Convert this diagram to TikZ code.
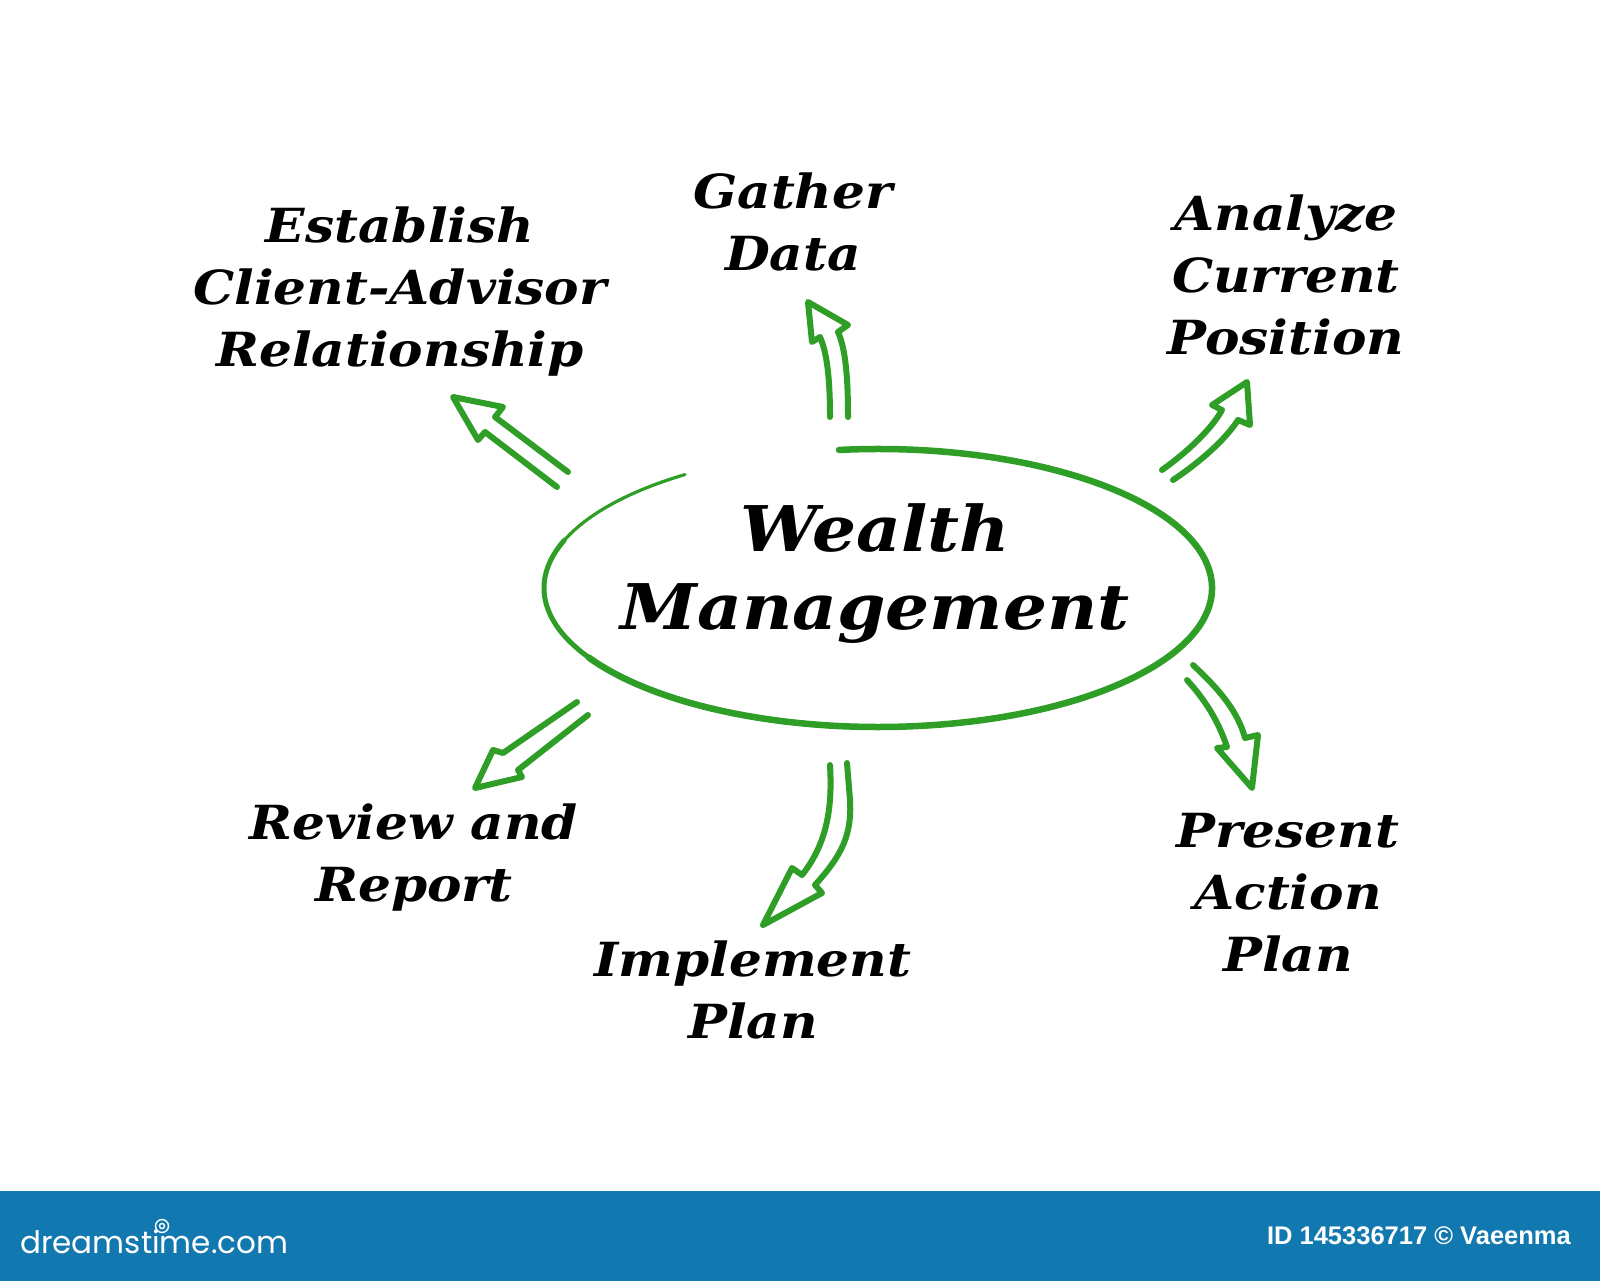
\documentclass[tikz,border=0pt]{standalone}
\usepackage{fontspec}
\newfontfamily\hand{DejaVu Serif}[FakeStretch=1.1]
\newfontfamily\barfont{Liberation Sans}
\newfontfamily\logofont{Poppins}
\definecolor{wmgreen}{RGB}{46,158,38}
\definecolor{barblue}{RGB}{18,120,176}
\begin{document}
\begin{tikzpicture}[x=1pt,y=-1pt,
  label/.style={font=\hand\bfseries\itshape\fontsize{47}{62}\selectfont, align=center, inner sep=0pt},
  hollowarrow/.style={draw=wmgreen, line width=6, line join=round, line cap=round},
  ring/.style={draw=wmgreen, line cap=round}]
\path[use as bounding box, fill=white] (0,0) rectangle (1600,1281);
% bottom bar
\fill[barblue] (0,1191) rectangle (1600,1281);
\node[anchor=base west, text=white, inner sep=0pt, font=\logofont\fontsize{31}{31}\selectfont] (logo) at (20,1253) {dreamstime.com};
\draw[white, line width=1.4] (162,1226) circle (6.5);
\draw[white, line width=1.4] (162,1226) circle (2.5);
\node[anchor=east, text=white, inner sep=0pt, font=\barfont\bfseries\fontsize{25.5}{26}\selectfont] (credit) at (1571,1236) {ID 145336717 © Vaeenma};

% centre ellipse (hand drawn, open at top left)
\draw[ring, line width=6.5] ([shift={(-96.7:334 and 139)}]878,588) arc[start angle=-96.7, end angle=150, x radius=334, y radius=139];
\draw[ring, line width=5] ([shift={(150:334 and 139)}]878,588) arc[start angle=150, end angle=200, x radius=334, y radius=139];
\draw[ring, line width=3.2] ([shift={(200:334 and 139)}]878,588) arc[start angle=200, end angle=234.7, x radius=334, y radius=139];

\node[font=\hand\bfseries\itshape\fontsize{63}{78}\selectfont, align=center, inner sep=0pt] (wm) at (875,574) {Wealth\\Management};

% labels
\node[label] (est) at (400,292) {Establish\\Client-Advisor\\Relationship};
\node[label] (gat) at (793,222) {Gather\\Data};
\node[label] (ana) at (1286,275) {Analyze\\Current\\Position};
\node[label] (pre) at (1288,893) {Present\\Action\\Plan};
\node[label] (imp) at (753,990) {Implement\\Plan};
\node[label] (rev) at (414,858) {Review and\\Report};

% hollow arrows
% to Establish
\draw[hollowarrow] (568,472) -- (495,417) -- (503,407) -- (453,397) -- (478,440) -- (485,432) -- (557,487);
% to Gather Data
\draw[hollowarrow] (848,417) .. controls (848,380) and (846,350) .. (838,332) -- (848,325) -- (808,302) -- (812,342) -- (820,337) .. controls (828,355) and (830,385) .. (830,417);
% to Analyze
\draw[hollowarrow] (1162,470) .. controls (1190,450) and (1212,428) .. (1222,410) -- (1212,405) -- (1247,382) -- (1250,425) -- (1238,420) .. controls (1225,440) and (1200,462) .. (1173,480);
% to Present
\draw[hollowarrow] (1193,665) .. controls (1220,690) and (1238,712) .. (1245,738) -- (1258,735) -- (1252,788) -- (1217,748) -- (1227,747) .. controls (1218,720) and (1205,700) .. (1187,680);
% to Implement
\draw[hollowarrow] (830,765) .. controls (832,800) and (830,840) .. (802,875) -- (792,868) -- (763,925) -- (822,893) -- (815,885) .. controls (842,855) and (852,835) .. (850,800) -- (847,763);
% to Review
\draw[hollowarrow] (577,702) -- (503,753) -- (493,750) -- (475,788) -- (522,777) -- (518,770) -- (588,715);
\end{tikzpicture}
\end{document}
